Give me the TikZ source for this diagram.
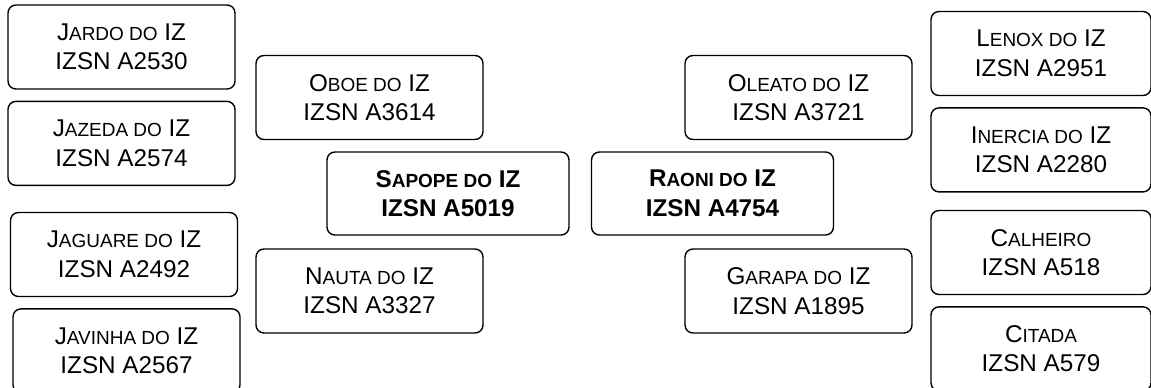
\documentclass[tikz,border=0pt]{standalone}
\usepackage{fontspec}
\setmainfont{Liberation Sans}
\usetikzlibrary{positioning}
\newcommand{\sck}[2]{#1{\fontsize{10.8}{16}\selectfont #2}}

\begin{document}
\begin{tikzpicture}[
    x=0.02cm, y=-0.02cm,
    node distance=0.22cm,
    box/.style={draw, line width=0.8pt, rounded corners=4.5pt, align=center, inner sep=0pt, font=\fontsize{13.8}{16.8}\selectfont},
    sidebox/.style={box, minimum width=4.54cm, minimum height=1.68cm},
    farbox/.style={box, minimum width=4.4cm, minimum height=1.68cm},
    mainbox/.style={box, minimum width=4.84cm, minimum height=1.66cm, font=\fontsize{13.8}{16.8}\selectfont\bfseries}
]
\useasboundingbox (0,0) rectangle (1151,388);
% animals
\node[mainbox] (sapope) at (448,193.5) {\sck{S}{APOPE DO} IZ\\ IZSN A5019};
\node[mainbox] (raoni) at (712.5,193.5) {\sck{R}{AONI DO} IZ\\ IZSN A4754};
% parents
\node[sidebox] (oboe) at (369.5,97.5) {\sck{O}{BOE DO} IZ\\ IZSN A3614};
\node[sidebox] (nauta) at (369.5,291) {\sck{N}{AUTA DO} IZ\\ IZSN A3327};
\node[sidebox] (oleato) at (798.5,97.5) {\sck{O}{LEATO DO} IZ\\ IZSN A3721};
\node[sidebox] (garapa) at (798.5,291) {\sck{G}{ARAPA DO} IZ\\ IZSN A1895};
% grandparents
\node[sidebox] (jardo) at (121.5,47) {\sck{J}{ARDO DO} IZ\\ IZSN A2530};
\node[sidebox, below=of jardo] (jazeda) {\sck{J}{AZEDA DO} IZ\\ IZSN A2574};
\node[sidebox] (jaguare) at (124,254.5) {\sck{J}{AGUARE DO} IZ\\ IZSN A2492};
\node[sidebox, below=of jaguare, xshift=0.05cm] (javinha) {\sck{J}{AVINHA DO} IZ\\ IZSN A2567};
\node[farbox] (lenox) at (1041,53.5) {\sck{L}{ENOX DO} IZ\\ IZSN A2951};
\node[farbox, below=of lenox] (inercia) {\sck{I}{NERCIA DO} IZ\\ IZSN A2280};
\node[farbox] (calheiro) at (1041,252.5) {\sck{C}{ALHEIRO}\\ IZSN A518};
\node[farbox, below=of calheiro] (citada) {\sck{C}{ITADA}\\ IZSN A579};
\end{tikzpicture}
\end{document}
